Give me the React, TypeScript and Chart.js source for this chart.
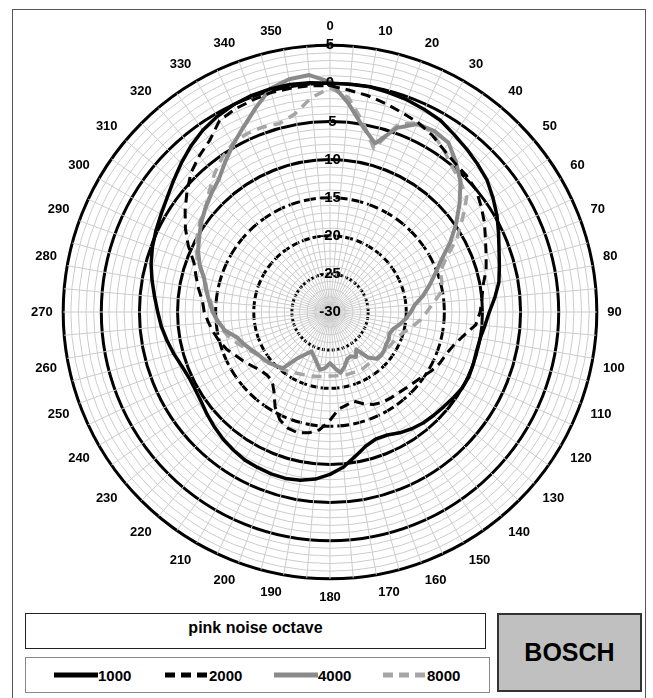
import React, { useEffect, useRef } from 'react';
import { Chart, registerables } from 'chart.js';

Chart.register(...registerables);

const FONT = '"Liberation Sans", Arial, sans-serif';

// angle categories (degrees, clockwise from top)
const ANGLES = [
  0, 5, 10, 15, 20, 25, 30, 35, 40, 45, 50, 55, 60, 65, 70, 75, 80, 85,
  90, 95, 100, 105, 110, 115, 120, 125, 130, 135, 140, 145, 150, 155, 160, 165, 170, 175,
  180, 185, 190, 195, 200, 205, 210, 215, 220, 225, 230, 235, 240, 245, 250, 255, 260, 265,
  270, 275, 280, 285, 290, 295, 300, 305, 310, 315, 320, 325, 330, 335, 340, 345, 350, 355,
];
const ANGLE_TICKS_SHOWN = [
  0, 10, 20, 30, 40, 50, 60, 70, 80, 90, 100, 110, 120, 130, 140, 150, 160, 170,
  180, 190, 200, 210, 220, 230, 240, 250, 260, 270, 280, 290, 300, 310, 320, 330, 340, 350,
];
const RADIAL_MIN = -30;
const RADIAL_MAX = 5;
const RADIAL_TICKS = [5, 0, -5, -10, -15, -20, -25, -30];

const SERIES_NAMES = ['1000', '2000', '4000', '8000'];

const S1000 = [
  0, 0, 0, -0.2, -0.4, -0.7, -1.0, -1.6, -2.1, -2.6, -3.1, -3.9, -4.7, -5.6, -6.4, -7.0, -7.5, -8.3,
  -9.1, -9.6, -10.0, -10.1, -10.0, -9.9, -10.0, -10.3, -10.6, -10.8, -11.0, -11.3, -11.7, -12.2, -12.3, -11.8, -10.8, -9.6,
  -8.7, -8.0, -7.6, -7.4, -7.4, -7.5, -7.6, -7.9, -8.2, -8.6, -9.0, -9.4, -9.6, -9.6, -9.3, -8.8, -8.3, -7.8,
  -7.4, -6.9, -6.3, -5.7, -5.2, -4.8, -4.4, -3.9, -3.2, -2.4, -1.6, -0.9, -0.4, 0, 0.2, 0.3, 0.3, 0.2,
];
const S2000 = [
  -0.3, -0.8, -1.2, -1.7, -2.2, -2.6, -3.2, -4.0, -4.5, -4.7, -5.0, -5.8, -6.6, -7.5, -8.2, -8.8, -9.6, -10.0,
  -10.3, -10.8, -12.2, -13.2, -13.8, -14.1, -14.6, -15.2, -15.6, -15.9, -16.1, -16.2, -16.3, -16.6, -17.2, -17.9, -17.6, -17.2,
  -15.8, -14.5, -13.9, -13.6, -13.8, -14.4, -15.6, -17.2, -18.2, -18.3, -18.1, -17.6, -17.0, -16.4, -15.6, -15.0, -14.5, -14.0,
  -13.5, -13.2, -12.5, -11.8, -11.0, -9.5, -8.1, -6.8, -5.5, -4.2, -3.3, -2.5, -1.0, -0.6, -0.4, -0.2, -0.2, -0.2,
];
const S4000 = [
  0.2, -2.5, -5.3, -7.1, -4.3, -2.8, -2.6, -2.9, -4.3, -5.8, -7.8, -9.8, -11.8, -13.9, -15.3, -16.5, -17.6, -18.8,
  -19.4, -20.0, -20.7, -21.4, -21.7, -21.5, -21.5, -21.3, -21.2, -21.3, -22.2, -24.0, -23.2, -23.6, -23.4, -22.6, -21.9, -22.6,
  -23.3, -22.6, -22.3, -23.2, -23.8, -24.3, -23.6, -22.6, -20.4, -20.0, -19.6, -19.3, -19.0, -18.5, -17.9, -17.3, -16.0, -15.3,
  -14.6, -14.1, -13.5, -12.9, -11.8, -10.9, -10.2, -9.4, -8.7, -8.0, -7.3, -6.0, -4.6, -3.2, -1.5, 0.3, 1.0, 1.2,
];
const S8000 = [
  -0.6, -1.8, -4.8, -7.8, -3.8, -2.6, -3.0, -4.0, -5.1, -5.8, -6.6, -8.8, -10.8, -13.2, -14.6, -14.8, -15.2, -16.4,
  -17.3, -18.1, -19.0, -19.9, -20.5, -20.8, -21.0, -21.2, -21.3, -21.4, -21.5, -21.5, -21.4, -21.4, -21.5, -21.5, -21.6, -21.6,
  -21.6, -21.5, -21.4, -21.3, -21.2, -21.0, -20.8, -20.5, -20.2, -20.0, -19.6, -19.2, -18.9, -18.2, -17.4, -16.5, -15.8, -15.1,
  -14.7, -14.3, -13.6, -13.0, -11.6, -10.6, -9.9, -9.2, -8.7, -7.6, -6.4, -5.3, -4.5, -4.2, -4.2, -4.4, -3.6, -1.8,
];

const SERIES_COLORS = ['#000000', '#000000', '#8a8a8a', '#a6a6a6'];
const SERIES_WIDTHS = [3.5, 3, 4, 3.5];
const SERIES_DASHES: number[][] = [[], [10, 6], [], [10, 7]];

function LegendItem({ x, idx }: { x: number; idx: number }) {
  return (
    <div style={{ position: 'absolute', left: x, top: 7, height: 20, display: 'flex', alignItems: 'center' }}>
      <svg width={44} height={10} style={{ display: 'block' }}>
        <line
          x1={0}
          y1={5}
          x2={44}
          y2={5}
          stroke={SERIES_COLORS[idx]}
          strokeWidth={5}
          strokeDasharray={SERIES_DASHES[idx].length ? '10 6' : undefined}
        />
      </svg>
      <span style={{ fontWeight: 'bold', fontSize: 15, color: '#000' }}>{SERIES_NAMES[idx]}</span>
    </div>
  );
}

export default function App() {
  const ref = useRef<HTMLCanvasElement>(null);

  useEffect(() => {
    if (!ref.current) return;
    const series = [S1000, S2000, S4000, S8000];
    const chart = new Chart(ref.current, {
      type: 'radar',
      data: {
        labels: ANGLES.map(String),
        datasets: series.map((d, i) => ({
          label: SERIES_NAMES[i],
          data: d,
          borderColor: SERIES_COLORS[i],
          borderWidth: SERIES_WIDTHS[i],
          borderDash: SERIES_DASHES[i],
          backgroundColor: 'transparent',
          fill: false,
          pointRadius: 0,
          pointHoverRadius: 0,
          tension: 0,
          borderJoinStyle: 'round',
        })),
      },
      options: {
        responsive: false,
        maintainAspectRatio: false,
        animation: false,
        events: [],
        layout: { padding: 0 },
        plugins: { legend: { display: false }, tooltip: { enabled: false } },
        scales: {
          r: {
            min: RADIAL_MIN,
            max: RADIAL_MAX,
            startAngle: 0,
            ticks: {
              stepSize: 1,
              autoSkip: false,
              maxTicksLimit: 100,
              z: 1,
              color: '#000',
              showLabelBackdrop: false,
              backdropPadding: 0,
              font: { family: FONT, size: 15, weight: 'bold' },
              callback: (v: any) => (RADIAL_TICKS.includes(Number(v)) ? String(v) : ''),
            },
            grid: {
              circular: true,
              color: (ctx: any) => {
                const v = ctx.tick ? ctx.tick.value : 0;
                if (v === RADIAL_MIN) return 'rgba(0,0,0,0)';
                return v % 5 === 0 ? '#000000' : '#cccccc';
              },
              lineWidth: (ctx: any) => {
                const v = ctx.tick ? ctx.tick.value : 0;
                if (v === RADIAL_MIN) return 0;
                return v % 5 === 0 ? 3 : 1;
              },
            },
            border: {
              dash: (ctx: any) => {
                const v = ctx.tick ? ctx.tick.value : 0;
                if (v === -15) return [12, 4];
                if (v === -20) return [8, 3];
                if (v === -25) return [3, 2];
                return [];
              },
            },
            angleLines: { color: '#cccccc', lineWidth: 1 },
            pointLabels: {
              color: '#000',
              padding: 3,
              font: { family: FONT, size: 13, weight: 'bold' },
              callback: (l: string) => (ANGLE_TICKS_SHOWN.includes(Number(l)) ? l : ''),
            },
          },
        },
      } as any,
    });
    return () => chart.destroy();
  }, []);

  return (
    <div
      style={{
        position: 'fixed',
        left: 0,
        top: 0,
        width: 653,
        height: 698,
        background: '#fff',
        fontFamily: FONT,
        overflow: 'hidden',
      }}
    >
      <div
        style={{
          position: 'absolute',
          left: 12,
          top: 9,
          width: 632,
          height: 700,
          border: '1px solid #555',
        }}
      />
      <div
        style={{
          position: 'absolute',
          left: 25,
          top: 613,
          width: 459,
          height: 34,
          border: '1px solid #222',
          textAlign: 'center',
          fontWeight: 'bold',
          fontSize: 16,
          lineHeight: '27px',
          color: '#000',
        }}
      >
        pink noise octave
      </div>
      <div
        style={{
          position: 'absolute',
          left: 25,
          top: 657,
          width: 463,
          height: 34,
          border: '1px solid #888',
        }}
      >
        <LegendItem x={28} idx={0} />
        <LegendItem x={139} idx={1} />
        <LegendItem x={248} idx={2} />
        <LegendItem x={357} idx={3} />
      </div>
      <div
        style={{
          position: 'absolute',
          left: 497,
          top: 613,
          width: 141,
          height: 75,
          background: '#c0c0c0',
          border: '2px solid #333',
          display: 'flex',
          alignItems: 'center',
          justifyContent: 'center',
          fontWeight: 'bold',
          fontSize: 25,
          color: '#000',
        }}
      >
        BOSCH
      </div>
      <canvas
        ref={ref}
        width={598}
        height={598}
        style={{ position: 'absolute', left: 29, top: 14, width: 598, height: 598 }}
      />
    </div>
  );
}
